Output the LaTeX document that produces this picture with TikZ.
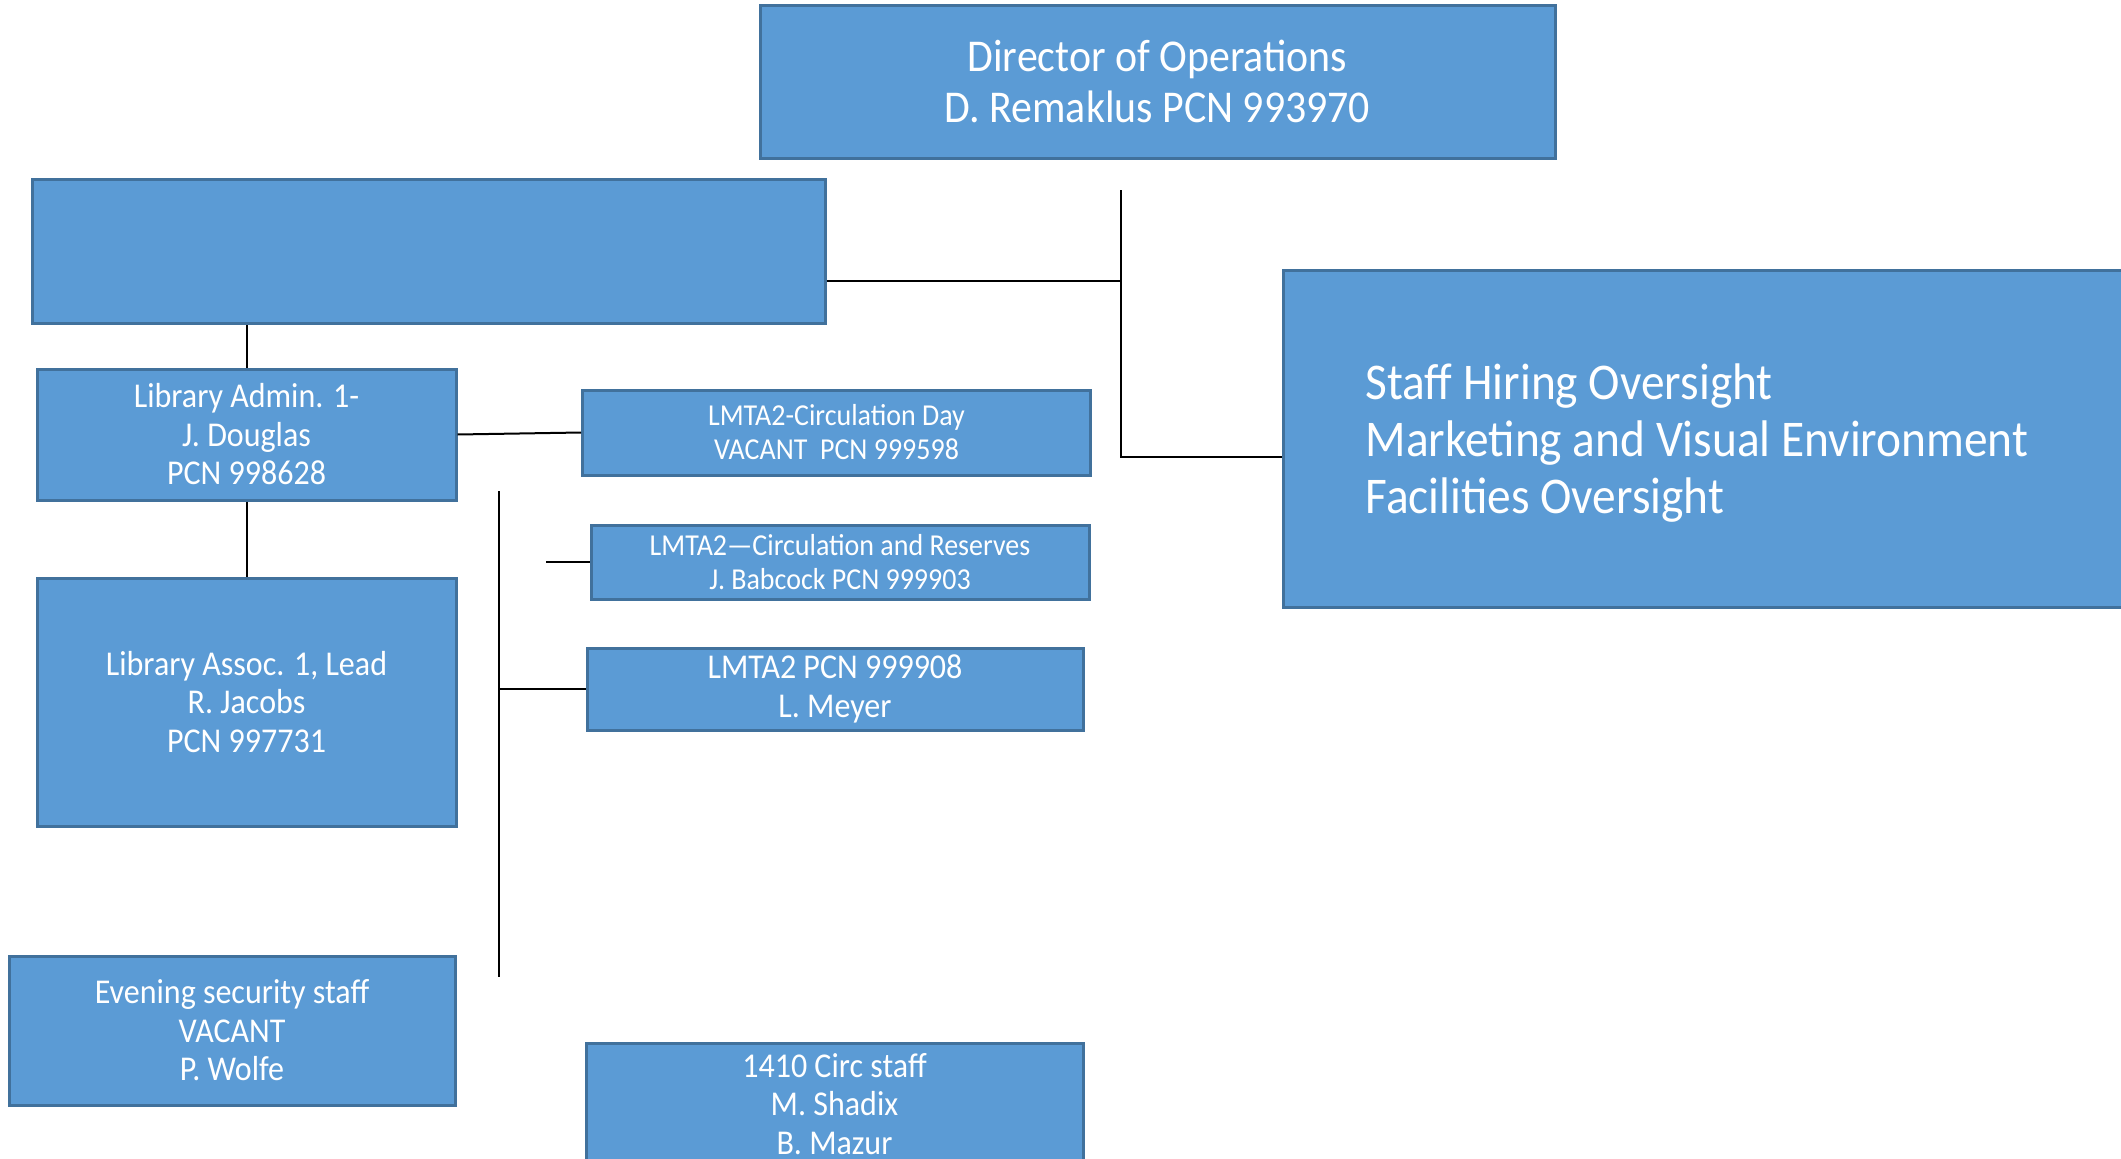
\documentclass[tikz,border=0pt]{standalone}
\usepackage{fontspec}
\setmainfont{Carlito}[FakeStretch=0.92]
\definecolor{boxfill}{HTML}{5B9BD5}
\definecolor{boxline}{HTML}{41719C}
\tikzset{
  orgbox/.style={draw=boxline, fill=boxfill, line width=3pt, inner sep=0pt,
    text=white, align=center, rectangle},
  conn/.style={draw=black, line width=2pt},
  fbig/.style={font=\fontsize{51.5}{57}\selectfont},
  fdir/.style={font=\fontsize{45.5}{51}\selectfont},
  fmid/.style={font=\fontsize{34.8}{38.5}\selectfont},
  fsmall/.style={font=\fontsize{30.4}{34}\selectfont},
}
\begin{document}
\begin{tikzpicture}[x=1pt,y=-1pt]
\useasboundingbox (0,0) rectangle (2121,1159);
% boxes (positions in px from top-left)
\node[orgbox, fdir, minimum width=795pt, minimum height=153pt] (dir) at (1157.5,81.5)
  {Director of Operations\\D. Remaklus PCN 993970};
\node[orgbox, minimum width=793pt, minimum height=144pt] (blank) at (428.5,251) {};
\node[orgbox, fbig, align=flush left, inner xsep=82pt, text width=694pt, minimum height=337pt,
  anchor=west] (staff) at (1282,438.5)
  {\rule{0pt}{44pt}Staff Hiring Oversight\\Marketing and Visual Environment\\Facilities Oversight};
\node[orgbox, fmid, minimum width=419pt, minimum height=131pt] (admin) at (246.5,434.5)
  {Library Admin. 1-\\J. Douglas\\PCN 998628};
\node[orgbox, fsmall, minimum width=508pt, minimum height=85pt] (circday) at (836.5,432.5)
  {LMTA2-Circulation Day\\VACANT\ \ PCN 999598};
\node[orgbox, fsmall, minimum width=498pt, minimum height=74pt] (reserves) at (840,562)
  {LMTA2—Circulation and Reserves\\J. Babcock PCN 999903};
\node[orgbox, fmid, minimum width=496pt, minimum height=82pt] (meyer) at (835,689)
  {LMTA2 PCN 999908\\L. Meyer};
\node[orgbox, fmid, minimum width=419pt, minimum height=248pt] (assoc) at (246.5,702)
  {Library Assoc. 1, Lead\\R. Jacobs\\PCN 997731};
\node[orgbox, fmid, minimum width=446pt, minimum height=149pt] (evening) at (232,1030.5)
  {Evening security staff\\VACANT\\P. Wolfe};
\node[orgbox, fmid, minimum width=497pt, minimum height=122pt] (circ1410) at (834.5,1104)
  {1410 Circ staff\\M. Shadix\\B. Mazur};
% junction coordinates
\coordinate (jtop) at (1121,190);
\coordinate (jmid) at (1121,281);
\coordinate (jbot) at (1121,457);
\coordinate (vtop) at (499,491);
\coordinate (vbot) at (499,977);
\coordinate (rstub) at (546,562);
% connectors
\draw[conn] (jtop) -- (jbot) -- (jbot -| staff.west);
\draw[conn] (blank.east |- jmid) -- (jmid);
\draw[conn] (admin.north) -- (admin.north |- blank.south);
\draw[conn] (admin.south) -- (assoc.north);
\draw[conn] (admin.east) -- (circday.west);
\draw[conn] (vtop) -- (vbot);
\draw[conn] (rstub) -- (reserves.west);
\draw[conn] (meyer.west -| vtop) -- (meyer.west);
\end{tikzpicture}
\end{document}
